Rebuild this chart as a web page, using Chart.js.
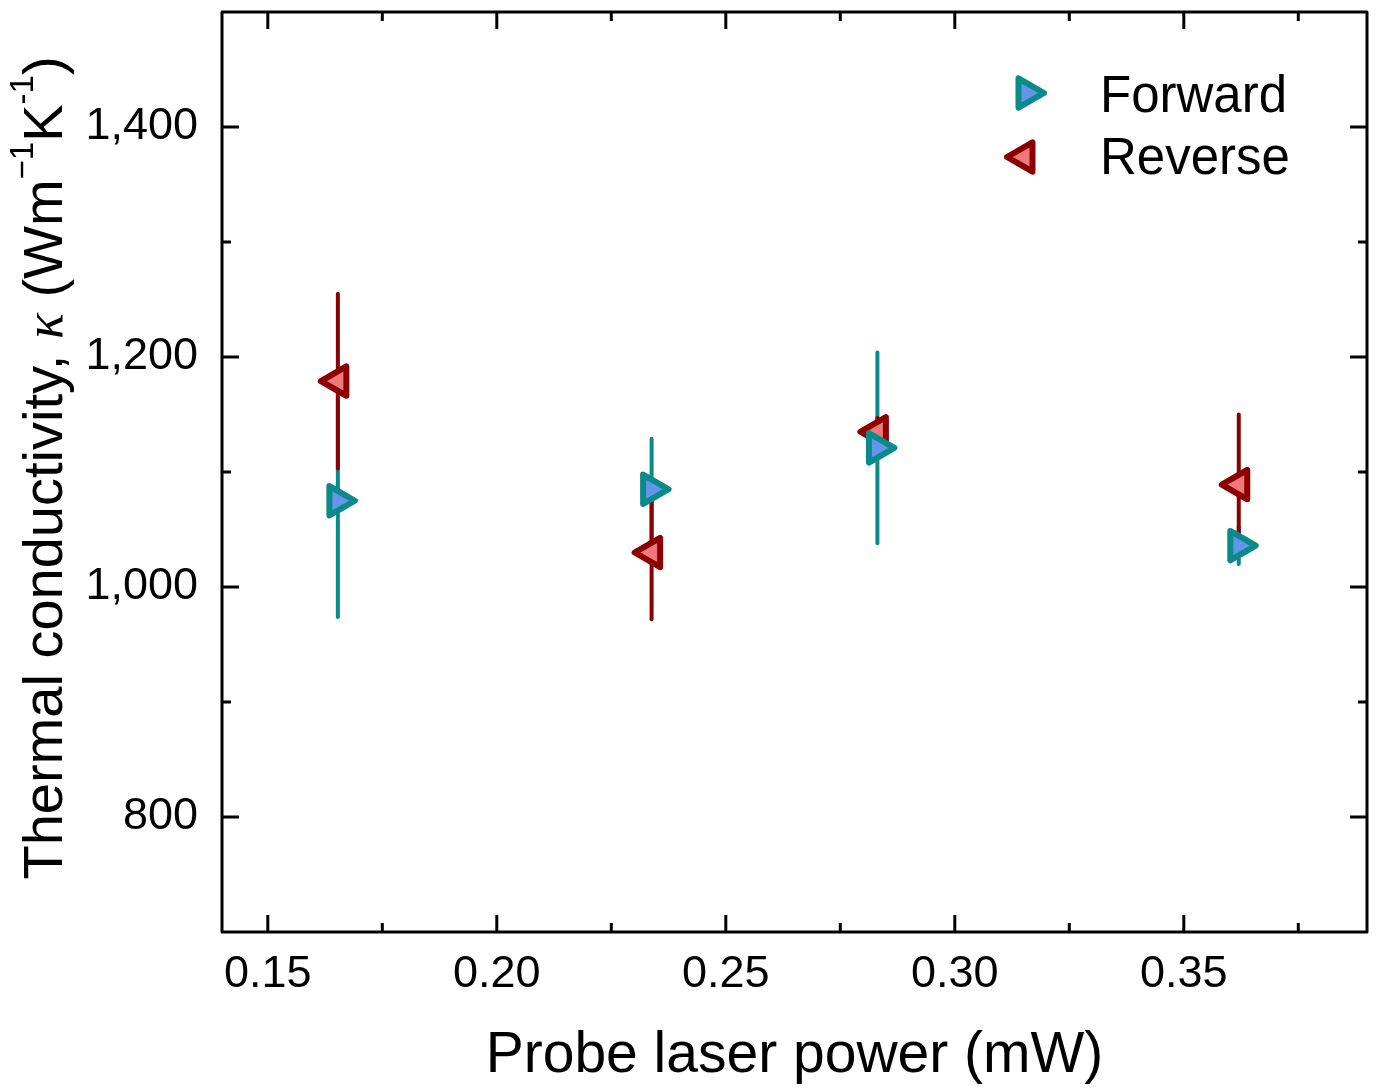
<!DOCTYPE html>
<html>
<head>
<meta charset="utf-8">
<script src="https://cdn.jsdelivr.net/npm/chart.js@4.4.0/dist/chart.umd.min.js"></script>
<style>
  html, body { margin: 0; padding: 0; background: #ffffff; }
  #wrap { width: 1376px; height: 1092px; }
</style>
</head>
<body>
<div id="wrap"><canvas id="myChartCanvas1" width="1376" height="1092"></canvas></div>
<script>
// dados
const powerFwd = [0.1653, 0.2338, 0.2831, 0.3620];
const kappaFwd = [1075, 1085, 1121, 1036];
const errFwd = [101, 44, 83, 16];

const powerRev = [0.1653, 0.2338, 0.2831, 0.3620];
const kappaRev = [1179, 1030, 1135, 1089];
const errRev = [76, 58, 12, 61];

const xTicks = [0.15, 0.20, 0.25, 0.30, 0.35];
const xMinor = [0.175, 0.225, 0.275, 0.325, 0.375];
const yTicks = [800, 1000, 1200, 1400];
const yMinor = [900, 1100, 1300];

const fonte = "'Liberation Sans', Arial, sans-serif";

const tealLine = "#0b8a8a";
const tealFill = "#6495ed";
const redLine = "#8b0000";
const redFill = "#f07878";

function toPoints(xs, ys) {
    let pts = [];
    xs.forEach((x, i) => pts.push({ x: x, y: ys[i] }));
    return pts;
}

// barras de erro, desenhadas antes dos marcadores
const errorBars = {
    id: "errorBars",
    beforeDatasetsDraw(chart) {
        const ctx = chart.ctx;
        const xs = chart.scales.x;
        const ys = chart.scales.y;
        const series = [
            [powerFwd, kappaFwd, errFwd, tealLine],
            [powerRev, kappaRev, errRev, redLine],
        ];
        ctx.save();
        ctx.lineWidth = 4;
        ctx.lineCap = "round";
        series.forEach((s) => {
            ctx.strokeStyle = s[3];
            for (let i = 0; i < s[0].length; i++) {
                const px = xs.getPixelForValue(s[0][i]);
                ctx.beginPath();
                ctx.moveTo(px, ys.getPixelForValue(s[1][i] - s[2][i]));
                ctx.lineTo(px, ys.getPixelForValue(s[1][i] + s[2][i]));
                ctx.stroke();
            }
        });
        ctx.restore();
        // cantos arredondados nos triangulos
        ctx.lineJoin = "round";
    },
};

function triangle(ctx, x, y, r, rot, stroke, fill) {
    let rad = rot * Math.PI / 180;
    ctx.beginPath();
    for (let k = 0; k < 3; k++) {
        const a = rad + k * 2 * Math.PI / 3;
        const px = x + Math.sin(a) * r;
        const py = y - Math.cos(a) * r;
        if (k == 0) ctx.moveTo(px, py); else ctx.lineTo(px, py);
    }
    ctx.closePath();
    ctx.fillStyle = fill;
    ctx.fill();
    ctx.lineWidth = 6;
    ctx.lineJoin = "round";
    ctx.strokeStyle = stroke;
    ctx.stroke();
}

// moldura, ticks para dentro, titulos e legenda
const frameAndText = {
    id: "frameAndText",
    afterDraw(chart) {
        const ctx = chart.ctx;
        const a = chart.chartArea;
        const xs = chart.scales.x;
        const ys = chart.scales.y;
        ctx.save();
        ctx.strokeStyle = "#000";
        ctx.lineWidth = 3;
        ctx.lineCap = "butt";

        function tickX(v, len) {
            const px = xs.getPixelForValue(v);
            ctx.beginPath();
            ctx.moveTo(px, a.bottom); ctx.lineTo(px, a.bottom - len);
            ctx.moveTo(px, a.top); ctx.lineTo(px, a.top + len);
            ctx.stroke();
        }
        function tickY(v, len) {
            const py = ys.getPixelForValue(v);
            ctx.beginPath();
            ctx.moveTo(a.left, py); ctx.lineTo(a.left + len, py);
            ctx.moveTo(a.right, py); ctx.lineTo(a.right - len, py);
            ctx.stroke();
        }
        xTicks.forEach((v) => tickX(v, 17));
        xMinor.forEach((v) => tickX(v, 9));
        yTicks.forEach((v) => tickY(v, 17));
        yMinor.forEach((v) => tickY(v, 9));

        ctx.strokeRect(a.left, a.top, a.right - a.left, a.bottom - a.top);

        // titulo eixo x
        ctx.fillStyle = "#000";
        ctx.font = "57px " + fonte;
        ctx.textAlign = "center";
        ctx.textBaseline = "alphabetic";
        ctx.fillText("Probe laser power (mW)", (a.left + a.right) / 2, 1072);

        // titulo eixo y com sobrescritos
        const partes = [
            { t: "Thermal conductivity, ", f: "56px " + fonte, dy: 0 },
            { t: "\u03ba", f: "italic 54px 'Liberation Serif', 'Times New Roman', serif", dy: 0 },
            { t: " (Wm", f: "56px " + fonte, dy: 0 },
            { t: "\u22121", f: "33px " + fonte, dy: -29 },
            { t: "K", f: "56px " + fonte, dy: 0 },
            { t: "-1", f: "33px " + fonte, dy: -29 },
            { t: ")", f: "56px " + fonte, dy: 0 },
        ];
        let total = 0;
        partes.forEach((p) => { ctx.font = p.f; p.w = ctx.measureText(p.t).width; total += p.w; });
        ctx.translate(62, 468 + total / 2);
        ctx.rotate(-Math.PI / 2);
        ctx.textAlign = "left";
        let cx = 0;
        partes.forEach((p) => {
            ctx.font = p.f;
            ctx.fillText(p.t, cx, p.dy);
            cx += p.w;
        });
        ctx.setTransform(1, 0, 0, 1, 0, 0);

        // legenda
        triangle(ctx, 1027, 93, 17, 90, tealLine, tealFill);
        triangle(ctx, 1024, 157, 17, -90, redLine, redFill);
        ctx.fillStyle = "#000";
        ctx.font = "51px " + fonte;
        ctx.textAlign = "left";
        ctx.fillText("Forward", 1100, 112);
        ctx.fillText("Reverse", 1100, 174);
        ctx.restore();
    },
};

let dados = {
    datasets: [
        {
            label: "Forward",
            data: toPoints(powerFwd, kappaFwd),
            showLine: false,
            pointStyle: "triangle",
            pointRotation: 90,
            pointRadius: 17,
            pointHoverRadius: 17,
            pointBorderWidth: 6,
            borderColor: tealLine,
            backgroundColor: tealFill,
        },
        {
            label: "Reverse",
            data: toPoints(powerRev, kappaRev),
            showLine: false,
            pointStyle: "triangle",
            pointRotation: -90,
            pointRadius: 17,
            pointHoverRadius: 17,
            pointBorderWidth: 6,
            borderColor: redLine,
            backgroundColor: redFill,
        },
    ],
};

const config = {
    type: "scatter",
    data: dados,
    plugins: [errorBars, frameAndText],
    options: {
        responsive: false,
        animation: false,
        events: [],
        layout: { autoPadding: false, padding: { top: 12, right: 9, left: 0, bottom: 0 } },
        plugins: {
            legend: { display: false },
            tooltip: { enabled: false },
        },
        scales: {
            x: {
                type: "linear",
                min: 0.14,
                max: 0.39,
                afterBuildTicks: (s) => { s.ticks = xTicks.map((v) => ({ value: v })); },
                afterFit: (s) => { s.height = 160; s.paddingLeft = 0; s.paddingRight = 0; },
                grid: { display: false, drawTicks: false },
                border: { display: false },
                ticks: {
                    color: "#000",
                    font: { size: 45, family: fonte },
                    padding: 16,
                    maxRotation: 0,
                    callback: (v) => Number(v).toFixed(2),
                },
            },
            y: {
                type: "linear",
                min: 700,
                max: 1500,
                afterBuildTicks: (s) => { s.ticks = yTicks.map((v) => ({ value: v })); },
                afterFit: (s) => { s.width = 222; s.paddingTop = 0; s.paddingBottom = 0; },
                grid: { display: false, drawTicks: false },
                border: { display: false },
                ticks: {
                    color: "#000",
                    font: { size: 45, family: fonte },
                    padding: 24,
                    callback: (v) => Number(v).toLocaleString("en-US"),
                },
            },
        },
    },
};

let myChart = new Chart(document.getElementById("myChartCanvas1"), config);
</script>
</body>
</html>
